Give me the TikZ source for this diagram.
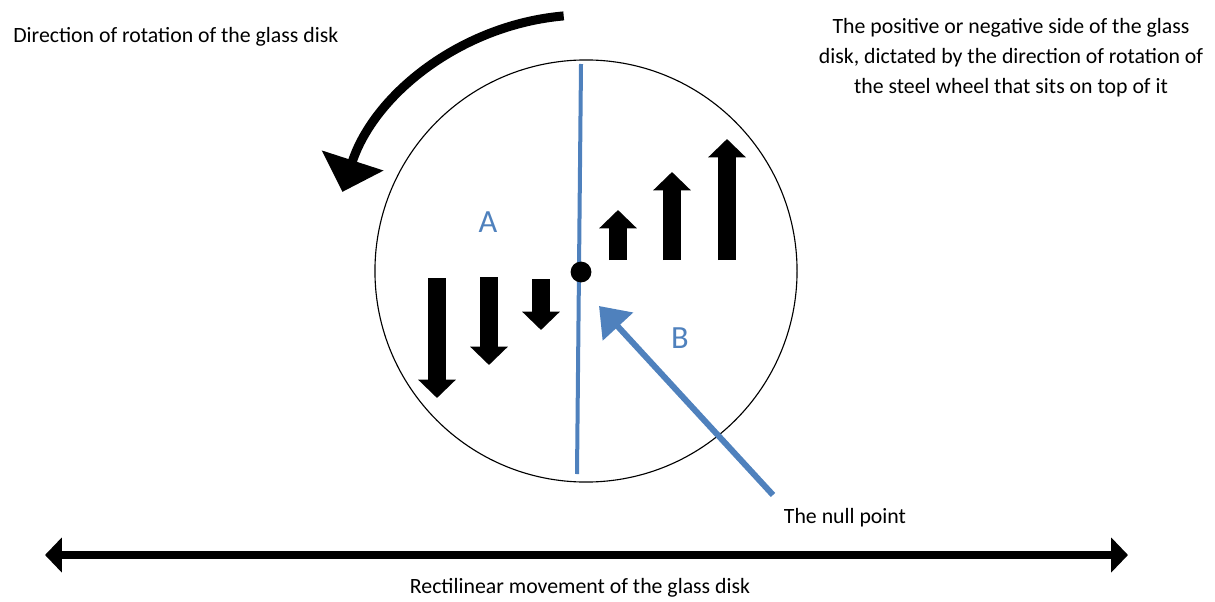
\documentclass[tikz,border=0pt]{standalone}
\usepackage{fontspec}
\setmainfont{Carlito}
\usetikzlibrary{arrows.meta, positioning}
\definecolor{diskblue}{RGB}{79,129,189}

\begin{document}
\begin{tikzpicture}[
        x=0.025cm, y=0.025cm,
        note/.style={font=\fontsize{15.5}{21.3}\selectfont, inner sep=0pt, align=center},
        sidelabel/.style={font=\fontsize{23}{26}\selectfont, text=diskblue, inner sep=0pt},
        blockarrow/.style={line width=0.46cm, -{Triangle[length=0.46cm, width=0.92cm]}},
        pointer/.style={line width=0.15cm, draw=diskblue, -{Triangle[length=0.7cm, width=1cm]}},
        spin/.style={line width=0.225cm, -{Triangle[length=0.825cm, width=1.575cm]}},
        travel/.style={line width=0.18cm, {Triangle[length=0.42cm, width=0.85cm]}-{Triangle[length=0.42cm, width=0.85cm]}}
    ]
        \useasboundingbox (0,0) rectangle (1215,601);

        % Glass disk
        \node[draw, circle, line width=0.8pt, minimum size=10.55cm, inner sep=0pt] (disk) at (586,330) {};
        \coordinate (axtop) at (581,537);
        \coordinate (axbot) at (577,127);
        \draw[diskblue, line width=0.1cm] (axtop) -- (axbot);
        \node[circle, fill=black, minimum size=0.52cm, inner sep=0pt] (null) at (581,329) {};

        % Sides
        \node[sidelabel] (sideA) at (488,379) {A};
        \node[sidelabel] (sideB) at (680,263) {B};

        % Side A arrows
        \foreach \i/\x/\top/\tip in {1/437/323/203, 2/489/324/236, 3/541/322/271} {
            \coordinate (down\i) at (\x,\top);
            \coordinate (downtip\i) at (\x,\tip);
            \draw[blockarrow] (down\i) -- (downtip\i);
        }

        % Side B arrows
        \foreach \i/\x/\tip in {1/618/391, 2/672/429, 3/727/462} {
            \coordinate (up\i) at (\x,341);
            \coordinate (uptip\i) at (\x,\tip);
            \draw[blockarrow] (up\i) -- (uptip\i);
        }

        % Rotation
        \draw[spin] (disk.center) ++(95:6.4cm) arc[start angle=95, end angle=162, radius=6.4cm];
        \node[note, anchor=west] (rotation) at (13,564) {Direction of rotation of the glass disk};

        % Side note
        \node[note] (sidenote) at (1011,543) {The positive or negative side of the glass\\ disk, dictated by the direction of rotation of\\ the steel wheel that sits on top of it};

        % Null point
        \node[note] (nulllabel) at (845,83) {The null point};
        \coordinate (nulltail) at (773,106);
        \coordinate (nulltip) at (599,295);
        \draw[pointer] (nulltail) -- (nulltip);

        % Rectilinear movement
        \coordinate (moveleft) at (45,46);
        \coordinate (moveright) at (1128,46);
        \draw[travel] (moveleft) -- (moveright);
        \node[note] (movement) at (580,13) {Rectilinear movement of the glass disk};
    \end{tikzpicture}
\end{document}
